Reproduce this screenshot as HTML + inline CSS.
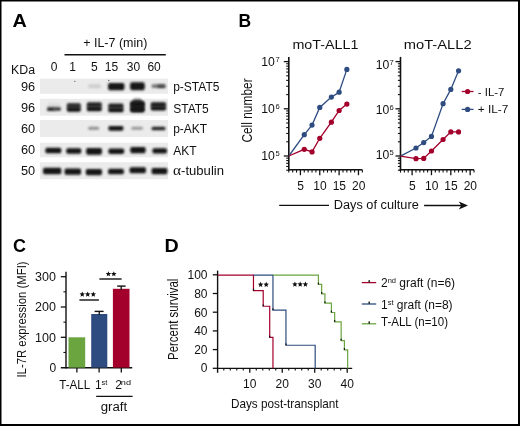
<!DOCTYPE html>
<html><head><meta charset="utf-8"><style>
html,body{margin:0;padding:0;background:#fff;}
svg{display:block;}
text{font-family:"Liberation Sans", sans-serif;}
svg{will-change:transform;}
</style></head><body>
<svg width="520" height="426" viewBox="0 0 520 426">
<defs><filter id="bl" x="-30%" y="-100%" width="160%" height="300%"><feGaussianBlur stdDeviation="1.0"/></filter></defs>
<rect width="520" height="426" fill="#fff"/>
<path d="M0 0H520V426H0Z M1.5 1.5V424H518V1.5Z" fill="#000" fill-rule="evenodd"/>
<text x="12.6" y="26.8" font-size="18.2" text-anchor="start" font-weight="bold" fill="#000" textLength="14.3" lengthAdjust="spacingAndGlyphs" >A</text>
<text x="238.6" y="26.5" font-size="18.2" text-anchor="start" font-weight="bold" fill="#000" textLength="12.6" lengthAdjust="spacingAndGlyphs" >B</text>
<text x="12.9" y="251.8" font-size="18.2" text-anchor="start" font-weight="bold" fill="#000" textLength="13.0" lengthAdjust="spacingAndGlyphs" >C</text>
<text x="164.6" y="251.8" font-size="18.2" text-anchor="start" font-weight="bold" fill="#000" textLength="14.2" lengthAdjust="spacingAndGlyphs" >D</text>
<text x="83.2" y="47.1" font-size="12" text-anchor="start" font-weight="normal" fill="#111" textLength="64.2" lengthAdjust="spacingAndGlyphs" >+ IL-7 (min)</text>
<line x1="64.5" y1="54.75" x2="165.8" y2="54.75" stroke="#111" stroke-width="1.5" />
<text x="54" y="70.7" font-size="12" text-anchor="middle" font-weight="normal" fill="#111" >0</text>
<text x="72.7" y="70.7" font-size="12" text-anchor="middle" font-weight="normal" fill="#111" >1</text>
<text x="94.3" y="70.7" font-size="12" text-anchor="middle" font-weight="normal" fill="#111" >5</text>
<text x="111.5" y="70.7" font-size="12" text-anchor="middle" font-weight="normal" fill="#111" >15</text>
<text x="133.4" y="70.7" font-size="12" text-anchor="middle" font-weight="normal" fill="#111" >30</text>
<text x="154.1" y="70.7" font-size="12" text-anchor="middle" font-weight="normal" fill="#111" >60</text>
<text x="11" y="74" font-size="12" text-anchor="start" font-weight="normal" fill="#111" textLength="24" lengthAdjust="spacingAndGlyphs" >KDa</text>
<rect x="40" y="78.6" width="128" height="15.200000000000003" fill="#ebebeb"/>
<text x="21.0" y="90.49999999999999" font-size="12.3" text-anchor="start" font-weight="normal" fill="#111" textLength="14.2" lengthAdjust="spacingAndGlyphs" >96</text>
<rect x="40" y="98.8" width="128" height="16.900000000000006" fill="#ebebeb"/>
<text x="21.0" y="111.55" font-size="12.3" text-anchor="start" font-weight="normal" fill="#111" textLength="14.2" lengthAdjust="spacingAndGlyphs" >96</text>
<rect x="40" y="120" width="128" height="17.099999999999994" fill="#ebebeb"/>
<text x="21.0" y="132.85000000000002" font-size="12.3" text-anchor="start" font-weight="normal" fill="#111" textLength="14.2" lengthAdjust="spacingAndGlyphs" >60</text>
<rect x="40" y="142.7" width="128" height="14.600000000000023" fill="#ebebeb"/>
<text x="21.0" y="154.3" font-size="12.3" text-anchor="start" font-weight="normal" fill="#111" textLength="14.2" lengthAdjust="spacingAndGlyphs" >60</text>
<rect x="40" y="162.2" width="128" height="17.0" fill="#ebebeb"/>
<text x="21.0" y="175.0" font-size="12.3" text-anchor="start" font-weight="normal" fill="#111" textLength="14.2" lengthAdjust="spacingAndGlyphs" >50</text>
<text x="173.2" y="91.3" font-size="12" text-anchor="start" font-weight="normal" fill="#111" >p-STAT5</text>
<text x="173.2" y="112.7" font-size="12" text-anchor="start" font-weight="normal" fill="#111" >STAT5</text>
<text x="173.2" y="133.4" font-size="12" text-anchor="start" font-weight="normal" fill="#111" >p-AKT</text>
<text x="173.2" y="154.7" font-size="12" text-anchor="start" font-weight="normal" fill="#111" >AKT</text>
<text x="173.0" y="175.0" font-size="12" fill="#111" textLength="51" lengthAdjust="spacingAndGlyphs"><tspan font-family="Liberation Serif" font-size="14">&#945;</tspan>-tubulin</text>
<rect x="88.00" y="84.25" width="13.00" height="4.10" rx="1.56" ry="2.05" fill="#141414" opacity="0.13" filter="url(#bl)"/>
<rect x="108.00" y="82.95" width="16.50" height="7.30" rx="1.60" ry="3.65" fill="#141414" opacity="1" filter="url(#bl)"/>
<rect x="130.10" y="82.25" width="14.70" height="8.00" rx="1.60" ry="4.00" fill="#141414" opacity="1" filter="url(#bl)"/>
<rect x="151.50" y="84.25" width="14.00" height="3.70" rx="1.60" ry="1.85" fill="#141414" opacity="0.55" filter="url(#bl)"/>
<rect x="157.50" y="84.45" width="8.00" height="3.50" rx="0.96" ry="1.75" fill="#141414" opacity="0.5" filter="url(#bl)"/>
<circle cx="74.8" cy="81.3" r="0.6" fill="#222" opacity="0.8"/>
<circle cx="108.8" cy="80.4" r="0.6" fill="#222" opacity="0.8"/>
<rect x="47.50" y="103.25" width="12.60" height="3.70" rx="1.51" ry="1.85" fill="#141414" opacity="0.08" filter="url(#bl)"/>
<rect x="47.00" y="107.15" width="7.50" height="3.90" rx="0.90" ry="1.95" fill="#141414" opacity="0.9" filter="url(#bl)"/>
<rect x="53.50" y="107.35" width="7.50" height="3.50" rx="0.90" ry="1.75" fill="#141414" opacity="0.8" filter="url(#bl)"/>
<rect x="67.10" y="104.98" width="13.40" height="4.75" rx="1.60" ry="2.37" fill="#141414" opacity="0.55" filter="url(#bl)"/>
<rect x="66.80" y="102.95" width="14.00" height="4.43" rx="1.60" ry="2.21" fill="#141414" opacity="0.8" filter="url(#bl)"/>
<rect x="66.80" y="107.32" width="14.00" height="4.43" rx="1.60" ry="2.21" fill="#141414" opacity="1" filter="url(#bl)"/>
<rect x="87.10" y="104.30" width="14.40" height="4.80" rx="1.60" ry="2.40" fill="#141414" opacity="0.55" filter="url(#bl)"/>
<rect x="86.80" y="102.25" width="15.00" height="4.47" rx="1.60" ry="2.24" fill="#141414" opacity="0.9" filter="url(#bl)"/>
<rect x="86.80" y="106.68" width="15.00" height="4.47" rx="1.60" ry="2.24" fill="#141414" opacity="1" filter="url(#bl)"/>
<rect x="108.55" y="105.58" width="14.65" height="4.75" rx="1.60" ry="2.37" fill="#141414" opacity="0.55" filter="url(#bl)"/>
<rect x="108.25" y="103.55" width="15.25" height="4.43" rx="1.60" ry="2.21" fill="#141414" opacity="0.9" filter="url(#bl)"/>
<rect x="108.25" y="107.92" width="15.25" height="4.43" rx="1.60" ry="2.21" fill="#141414" opacity="1" filter="url(#bl)"/>
<rect x="130.40" y="103.80" width="14.05" height="5.80" rx="1.60" ry="2.90" fill="#141414" opacity="0.55" filter="url(#bl)"/>
<rect x="130.10" y="101.25" width="14.65" height="5.39" rx="1.60" ry="2.70" fill="#141414" opacity="1.0" filter="url(#bl)"/>
<rect x="130.10" y="106.76" width="14.65" height="5.39" rx="1.60" ry="2.70" fill="#141414" opacity="1" filter="url(#bl)"/>
<rect x="131.00" y="101.15" width="13.00" height="10.70" rx="1.56" ry="5.35" fill="#141414" opacity="0.8" filter="url(#bl)"/>
<rect x="133.00" y="98.45" width="8.50" height="4.90" rx="1.02" ry="2.45" fill="#141414" opacity="0.55" filter="url(#bl)"/>
<rect x="151.05" y="104.12" width="14.65" height="4.45" rx="1.60" ry="2.22" fill="#141414" opacity="0.55" filter="url(#bl)"/>
<rect x="150.75" y="102.25" width="15.25" height="4.15" rx="1.60" ry="2.07" fill="#141414" opacity="0.95" filter="url(#bl)"/>
<rect x="150.75" y="106.30" width="15.25" height="4.15" rx="1.60" ry="2.07" fill="#141414" opacity="1" filter="url(#bl)"/>
<rect x="88.10" y="126.75" width="11.10" height="3.10" rx="1.33" ry="1.55" fill="#141414" opacity="0.42" filter="url(#bl)"/>
<rect x="108.30" y="125.95" width="15.20" height="4.70" rx="1.60" ry="2.35" fill="#141414" opacity="1" filter="url(#bl)"/>
<rect x="131.30" y="126.75" width="11.70" height="3.10" rx="1.40" ry="1.55" fill="#141414" opacity="0.38" filter="url(#bl)"/>
<rect x="151.50" y="126.65" width="14.00" height="3.70" rx="1.60" ry="1.85" fill="#141414" opacity="0.92" filter="url(#bl)"/>
<rect x="45.25" y="147.75" width="16.15" height="5.50" rx="1.60" ry="2.75" fill="#141414" opacity="1" filter="url(#bl)"/>
<rect x="66.10" y="148.25" width="15.30" height="5.50" rx="1.60" ry="2.75" fill="#141414" opacity="1" filter="url(#bl)"/>
<rect x="86.10" y="148.05" width="15.90" height="6.60" rx="1.60" ry="3.30" fill="#141414" opacity="1" filter="url(#bl)"/>
<rect x="108.30" y="148.45" width="16.00" height="5.60" rx="1.60" ry="2.80" fill="#141414" opacity="1" filter="url(#bl)"/>
<rect x="130.20" y="146.95" width="15.50" height="6.20" rx="1.60" ry="3.10" fill="#141414" opacity="1" filter="url(#bl)"/>
<rect x="152.30" y="148.15" width="14.80" height="5.40" rx="1.60" ry="2.70" fill="#141414" opacity="1" filter="url(#bl)"/>
<rect x="43.00" y="167.75" width="18.40" height="6.60" rx="1.60" ry="3.30" fill="#141414" opacity="1" filter="url(#bl)"/>
<rect x="64.50" y="168.55" width="16.60" height="6.20" rx="1.60" ry="3.10" fill="#141414" opacity="1" filter="url(#bl)"/>
<rect x="85.70" y="168.95" width="16.40" height="6.20" rx="1.60" ry="3.10" fill="#141414" opacity="1" filter="url(#bl)"/>
<rect x="108.00" y="168.65" width="16.00" height="5.60" rx="1.60" ry="2.80" fill="#141414" opacity="1" filter="url(#bl)"/>
<rect x="129.50" y="167.15" width="16.50" height="6.00" rx="1.60" ry="3.00" fill="#141414" opacity="1" filter="url(#bl)"/>
<rect x="151.50" y="167.95" width="16.00" height="6.30" rx="1.60" ry="3.15" fill="#141414" opacity="1" filter="url(#bl)"/>
<text x="292.4" y="48.7" font-size="12.6" text-anchor="start" font-weight="normal" fill="#111" textLength="66" lengthAdjust="spacingAndGlyphs" >moT-ALL1</text>
<line x1="288.8" y1="56.9" x2="288.8" y2="170.6" stroke="#111" stroke-width="1.6" />
<line x1="288.0" y1="169.8" x2="362.33000000000004" y2="169.8" stroke="#111" stroke-width="1.6" />
<line x1="283.8" y1="156.0" x2="288.8" y2="156.0" stroke="#111" stroke-width="1.3" />
<line x1="283.8" y1="108.8" x2="288.8" y2="108.8" stroke="#111" stroke-width="1.3" />
<line x1="283.8" y1="61.599999999999994" x2="288.8" y2="61.599999999999994" stroke="#111" stroke-width="1.3" />
<line x1="286.2" y1="170.2086157953399" x2="288.8" y2="170.2086157953399" stroke="#111" stroke-width="1.1" />
<line x1="286.2" y1="166.47126098189202" x2="288.8" y2="166.47126098189202" stroke="#111" stroke-width="1.1" />
<line x1="286.2" y1="163.31137251132708" x2="288.8" y2="163.31137251132708" stroke="#111" stroke-width="1.1" />
<line x1="286.2" y1="160.57415261398026" x2="288.8" y2="160.57415261398026" stroke="#111" stroke-width="1.1" />
<line x1="286.2" y1="158.15975355446386" x2="288.8" y2="158.15975355446386" stroke="#111" stroke-width="1.1" />
<line x1="286.2" y1="141.7913842046601" x2="288.8" y2="141.7913842046601" stroke="#111" stroke-width="1.1" />
<line x1="286.2" y1="133.47987677723194" x2="288.8" y2="133.47987677723194" stroke="#111" stroke-width="1.1" />
<line x1="286.2" y1="127.58276840932017" x2="288.8" y2="127.58276840932017" stroke="#111" stroke-width="1.1" />
<line x1="286.2" y1="123.00861579533992" x2="288.8" y2="123.00861579533992" stroke="#111" stroke-width="1.1" />
<line x1="286.2" y1="119.27126098189201" x2="288.8" y2="119.27126098189201" stroke="#111" stroke-width="1.1" />
<line x1="286.2" y1="116.11137251132708" x2="288.8" y2="116.11137251132708" stroke="#111" stroke-width="1.1" />
<line x1="286.2" y1="113.37415261398026" x2="288.8" y2="113.37415261398026" stroke="#111" stroke-width="1.1" />
<line x1="286.2" y1="110.95975355446384" x2="288.8" y2="110.95975355446384" stroke="#111" stroke-width="1.1" />
<line x1="286.2" y1="94.59138420466007" x2="288.8" y2="94.59138420466007" stroke="#111" stroke-width="1.1" />
<line x1="286.2" y1="86.27987677723192" x2="288.8" y2="86.27987677723192" stroke="#111" stroke-width="1.1" />
<line x1="286.2" y1="80.38276840932016" x2="288.8" y2="80.38276840932016" stroke="#111" stroke-width="1.1" />
<line x1="286.2" y1="75.8086157953399" x2="288.8" y2="75.8086157953399" stroke="#111" stroke-width="1.1" />
<line x1="286.2" y1="72.07126098189201" x2="288.8" y2="72.07126098189201" stroke="#111" stroke-width="1.1" />
<line x1="286.2" y1="68.91137251132707" x2="288.8" y2="68.91137251132707" stroke="#111" stroke-width="1.1" />
<line x1="286.2" y1="66.17415261398025" x2="288.8" y2="66.17415261398025" stroke="#111" stroke-width="1.1" />
<line x1="286.2" y1="63.75975355446384" x2="288.8" y2="63.75975355446384" stroke="#111" stroke-width="1.1" />
<line x1="288.8" y1="169.8" x2="288.8" y2="172.6" stroke="#111" stroke-width="1.1" />
<line x1="292.67" y1="169.8" x2="292.67" y2="172.6" stroke="#111" stroke-width="1.1" />
<line x1="296.54" y1="169.8" x2="296.54" y2="172.6" stroke="#111" stroke-width="1.1" />
<line x1="300.41" y1="169.8" x2="300.41" y2="175.2" stroke="#111" stroke-width="1.3" />
<text x="300.61" y="190.4" font-size="12" text-anchor="middle" font-weight="normal" fill="#111" >5</text>
<line x1="304.28000000000003" y1="169.8" x2="304.28000000000003" y2="172.6" stroke="#111" stroke-width="1.1" />
<line x1="308.15000000000003" y1="169.8" x2="308.15000000000003" y2="172.6" stroke="#111" stroke-width="1.1" />
<line x1="312.02" y1="169.8" x2="312.02" y2="172.6" stroke="#111" stroke-width="1.1" />
<line x1="315.89" y1="169.8" x2="315.89" y2="172.6" stroke="#111" stroke-width="1.1" />
<line x1="319.76" y1="169.8" x2="319.76" y2="175.2" stroke="#111" stroke-width="1.3" />
<text x="319.96" y="190.4" font-size="12" text-anchor="middle" font-weight="normal" fill="#111" >10</text>
<line x1="323.63" y1="169.8" x2="323.63" y2="172.6" stroke="#111" stroke-width="1.1" />
<line x1="327.5" y1="169.8" x2="327.5" y2="172.6" stroke="#111" stroke-width="1.1" />
<line x1="331.37" y1="169.8" x2="331.37" y2="172.6" stroke="#111" stroke-width="1.1" />
<line x1="335.24" y1="169.8" x2="335.24" y2="172.6" stroke="#111" stroke-width="1.1" />
<line x1="339.11" y1="169.8" x2="339.11" y2="175.2" stroke="#111" stroke-width="1.3" />
<text x="339.31" y="190.4" font-size="12" text-anchor="middle" font-weight="normal" fill="#111" >15</text>
<line x1="342.98" y1="169.8" x2="342.98" y2="172.6" stroke="#111" stroke-width="1.1" />
<line x1="346.85" y1="169.8" x2="346.85" y2="172.6" stroke="#111" stroke-width="1.1" />
<line x1="350.72" y1="169.8" x2="350.72" y2="172.6" stroke="#111" stroke-width="1.1" />
<line x1="354.59000000000003" y1="169.8" x2="354.59000000000003" y2="172.6" stroke="#111" stroke-width="1.1" />
<line x1="358.46000000000004" y1="169.8" x2="358.46000000000004" y2="175.2" stroke="#111" stroke-width="1.3" />
<text x="358.66" y="190.4" font-size="12" text-anchor="middle" font-weight="normal" fill="#111" >20</text>
<line x1="362.33000000000004" y1="169.8" x2="362.33000000000004" y2="172.6" stroke="#111" stroke-width="1.1" />
<text x="274.8" y="65.8" font-size="12.2" text-anchor="end" font-weight="normal" fill="#111" >10</text>
<text x="275.5" y="61.5" font-size="7.6" text-anchor="start" font-weight="normal" fill="#111" >7</text>
<text x="274.8" y="112.6" font-size="12.2" text-anchor="end" font-weight="normal" fill="#111" >10</text>
<text x="275.5" y="108.8" font-size="7.6" text-anchor="start" font-weight="normal" fill="#111" >6</text>
<text x="274.8" y="159.6" font-size="12.2" text-anchor="end" font-weight="normal" fill="#111" >10</text>
<text x="275.5" y="155.9" font-size="7.6" text-anchor="start" font-weight="normal" fill="#111" >5</text>
<text x="403.8" y="48.7" font-size="12.6" text-anchor="start" font-weight="normal" fill="#111" textLength="67.8" lengthAdjust="spacingAndGlyphs" >moT-ALL2</text>
<line x1="400.5" y1="56.9" x2="400.5" y2="170.6" stroke="#111" stroke-width="1.6" />
<line x1="399.7" y1="169.8" x2="474.03" y2="169.8" stroke="#111" stroke-width="1.6" />
<line x1="395.5" y1="156.0" x2="400.5" y2="156.0" stroke="#111" stroke-width="1.3" />
<line x1="395.5" y1="108.8" x2="400.5" y2="108.8" stroke="#111" stroke-width="1.3" />
<line x1="395.5" y1="61.599999999999994" x2="400.5" y2="61.599999999999994" stroke="#111" stroke-width="1.3" />
<line x1="397.9" y1="170.2086157953399" x2="400.5" y2="170.2086157953399" stroke="#111" stroke-width="1.1" />
<line x1="397.9" y1="166.47126098189202" x2="400.5" y2="166.47126098189202" stroke="#111" stroke-width="1.1" />
<line x1="397.9" y1="163.31137251132708" x2="400.5" y2="163.31137251132708" stroke="#111" stroke-width="1.1" />
<line x1="397.9" y1="160.57415261398026" x2="400.5" y2="160.57415261398026" stroke="#111" stroke-width="1.1" />
<line x1="397.9" y1="158.15975355446386" x2="400.5" y2="158.15975355446386" stroke="#111" stroke-width="1.1" />
<line x1="397.9" y1="141.7913842046601" x2="400.5" y2="141.7913842046601" stroke="#111" stroke-width="1.1" />
<line x1="397.9" y1="133.47987677723194" x2="400.5" y2="133.47987677723194" stroke="#111" stroke-width="1.1" />
<line x1="397.9" y1="127.58276840932017" x2="400.5" y2="127.58276840932017" stroke="#111" stroke-width="1.1" />
<line x1="397.9" y1="123.00861579533992" x2="400.5" y2="123.00861579533992" stroke="#111" stroke-width="1.1" />
<line x1="397.9" y1="119.27126098189201" x2="400.5" y2="119.27126098189201" stroke="#111" stroke-width="1.1" />
<line x1="397.9" y1="116.11137251132708" x2="400.5" y2="116.11137251132708" stroke="#111" stroke-width="1.1" />
<line x1="397.9" y1="113.37415261398026" x2="400.5" y2="113.37415261398026" stroke="#111" stroke-width="1.1" />
<line x1="397.9" y1="110.95975355446384" x2="400.5" y2="110.95975355446384" stroke="#111" stroke-width="1.1" />
<line x1="397.9" y1="94.59138420466007" x2="400.5" y2="94.59138420466007" stroke="#111" stroke-width="1.1" />
<line x1="397.9" y1="86.27987677723192" x2="400.5" y2="86.27987677723192" stroke="#111" stroke-width="1.1" />
<line x1="397.9" y1="80.38276840932016" x2="400.5" y2="80.38276840932016" stroke="#111" stroke-width="1.1" />
<line x1="397.9" y1="75.8086157953399" x2="400.5" y2="75.8086157953399" stroke="#111" stroke-width="1.1" />
<line x1="397.9" y1="72.07126098189201" x2="400.5" y2="72.07126098189201" stroke="#111" stroke-width="1.1" />
<line x1="397.9" y1="68.91137251132707" x2="400.5" y2="68.91137251132707" stroke="#111" stroke-width="1.1" />
<line x1="397.9" y1="66.17415261398025" x2="400.5" y2="66.17415261398025" stroke="#111" stroke-width="1.1" />
<line x1="397.9" y1="63.75975355446384" x2="400.5" y2="63.75975355446384" stroke="#111" stroke-width="1.1" />
<line x1="400.5" y1="169.8" x2="400.5" y2="172.6" stroke="#111" stroke-width="1.1" />
<line x1="404.37" y1="169.8" x2="404.37" y2="172.6" stroke="#111" stroke-width="1.1" />
<line x1="408.24" y1="169.8" x2="408.24" y2="172.6" stroke="#111" stroke-width="1.1" />
<line x1="412.11" y1="169.8" x2="412.11" y2="175.2" stroke="#111" stroke-width="1.3" />
<text x="412.31" y="190.4" font-size="12" text-anchor="middle" font-weight="normal" fill="#111" >5</text>
<line x1="415.98" y1="169.8" x2="415.98" y2="172.6" stroke="#111" stroke-width="1.1" />
<line x1="419.85" y1="169.8" x2="419.85" y2="172.6" stroke="#111" stroke-width="1.1" />
<line x1="423.72" y1="169.8" x2="423.72" y2="172.6" stroke="#111" stroke-width="1.1" />
<line x1="427.59" y1="169.8" x2="427.59" y2="172.6" stroke="#111" stroke-width="1.1" />
<line x1="431.46" y1="169.8" x2="431.46" y2="175.2" stroke="#111" stroke-width="1.3" />
<text x="431.65999999999997" y="190.4" font-size="12" text-anchor="middle" font-weight="normal" fill="#111" >10</text>
<line x1="435.33" y1="169.8" x2="435.33" y2="172.6" stroke="#111" stroke-width="1.1" />
<line x1="439.2" y1="169.8" x2="439.2" y2="172.6" stroke="#111" stroke-width="1.1" />
<line x1="443.07" y1="169.8" x2="443.07" y2="172.6" stroke="#111" stroke-width="1.1" />
<line x1="446.94" y1="169.8" x2="446.94" y2="172.6" stroke="#111" stroke-width="1.1" />
<line x1="450.81" y1="169.8" x2="450.81" y2="175.2" stroke="#111" stroke-width="1.3" />
<text x="451.01" y="190.4" font-size="12" text-anchor="middle" font-weight="normal" fill="#111" >15</text>
<line x1="454.68" y1="169.8" x2="454.68" y2="172.6" stroke="#111" stroke-width="1.1" />
<line x1="458.55" y1="169.8" x2="458.55" y2="172.6" stroke="#111" stroke-width="1.1" />
<line x1="462.42" y1="169.8" x2="462.42" y2="172.6" stroke="#111" stroke-width="1.1" />
<line x1="466.29" y1="169.8" x2="466.29" y2="172.6" stroke="#111" stroke-width="1.1" />
<line x1="470.15999999999997" y1="169.8" x2="470.15999999999997" y2="175.2" stroke="#111" stroke-width="1.3" />
<text x="470.35999999999996" y="190.4" font-size="12" text-anchor="middle" font-weight="normal" fill="#111" >20</text>
<line x1="474.03" y1="169.8" x2="474.03" y2="172.6" stroke="#111" stroke-width="1.1" />
<text x="389.4" y="68.5" font-size="12.2" text-anchor="end" font-weight="normal" fill="#111" >10</text>
<text x="389.5" y="64.6" font-size="7.6" text-anchor="start" font-weight="normal" fill="#111" >7</text>
<text x="389.4" y="114.2" font-size="12.2" text-anchor="end" font-weight="normal" fill="#111" >10</text>
<text x="389.5" y="110.3" font-size="7.6" text-anchor="start" font-weight="normal" fill="#111" >6</text>
<text x="389.4" y="158.8" font-size="12.2" text-anchor="end" font-weight="normal" fill="#111" >10</text>
<text x="389.5" y="155.0" font-size="7.6" text-anchor="start" font-weight="normal" fill="#111" >5</text>
<path d="M288.80,156.00 L304.28,134.70 L312.02,125.10 L319.76,107.40 L331.37,97.10 L339.11,92.20 L346.85,69.40" fill="none" stroke="#2e4c80" stroke-width="1.3"/>
<circle cx="304.28" cy="134.70" r="2.6" fill="#2e4c80"/>
<circle cx="312.02" cy="125.10" r="2.6" fill="#2e4c80"/>
<circle cx="319.76" cy="107.40" r="2.6" fill="#2e4c80"/>
<circle cx="331.37" cy="97.10" r="2.6" fill="#2e4c80"/>
<circle cx="339.11" cy="92.20" r="2.6" fill="#2e4c80"/>
<circle cx="346.85" cy="69.40" r="2.6" fill="#2e4c80"/>
<path d="M288.80,156.00 L304.28,149.30 L312.02,151.90 L319.76,138.30 L331.37,122.20 L339.11,110.50 L346.85,104.10" fill="none" stroke="#a3002c" stroke-width="1.3"/>
<circle cx="304.28" cy="149.30" r="2.6" fill="#a3002c"/>
<circle cx="312.02" cy="151.90" r="2.6" fill="#a3002c"/>
<circle cx="319.76" cy="138.30" r="2.6" fill="#a3002c"/>
<circle cx="331.37" cy="122.20" r="2.6" fill="#a3002c"/>
<circle cx="339.11" cy="110.50" r="2.6" fill="#a3002c"/>
<circle cx="346.85" cy="104.10" r="2.6" fill="#a3002c"/>
<path d="M400.50,156.10 L415.98,148.00 L423.72,142.60 L431.46,136.40 L443.07,103.70 L450.81,89.40 L458.55,70.80" fill="none" stroke="#2e4c80" stroke-width="1.3"/>
<circle cx="415.98" cy="148.00" r="2.6" fill="#2e4c80"/>
<circle cx="423.72" cy="142.60" r="2.6" fill="#2e4c80"/>
<circle cx="431.46" cy="136.40" r="2.6" fill="#2e4c80"/>
<circle cx="443.07" cy="103.70" r="2.6" fill="#2e4c80"/>
<circle cx="450.81" cy="89.40" r="2.6" fill="#2e4c80"/>
<circle cx="458.55" cy="70.80" r="2.6" fill="#2e4c80"/>
<path d="M400.50,156.10 L415.98,158.70 L423.72,158.40 L431.46,151.00 L443.07,139.50 L450.81,131.90 L458.55,131.90" fill="none" stroke="#a3002c" stroke-width="1.3"/>
<circle cx="415.98" cy="158.70" r="2.6" fill="#a3002c"/>
<circle cx="423.72" cy="158.40" r="2.6" fill="#a3002c"/>
<circle cx="431.46" cy="151.00" r="2.6" fill="#a3002c"/>
<circle cx="443.07" cy="139.50" r="2.6" fill="#a3002c"/>
<circle cx="450.81" cy="131.90" r="2.6" fill="#a3002c"/>
<circle cx="458.55" cy="131.90" r="2.6" fill="#a3002c"/>
<line x1="461.7" y1="91.5" x2="473.5" y2="91.5" stroke="#a3002c" stroke-width="1.3" />
<circle cx="467.6" cy="91.5" r="2.6" fill="#a3002c"/>
<text x="477.8" y="95.5" font-size="11.5" text-anchor="start" font-weight="normal" fill="#111" textLength="26.5" lengthAdjust="spacingAndGlyphs" >- IL-7</text>
<line x1="461.7" y1="109.4" x2="473.5" y2="109.4" stroke="#2e4c80" stroke-width="1.3" />
<circle cx="467.6" cy="109.4" r="2.6" fill="#2e4c80"/>
<text x="477.8" y="113.4" font-size="11.5" text-anchor="start" font-weight="normal" fill="#111" textLength="30.6" lengthAdjust="spacingAndGlyphs" >+ IL-7</text>
<text transform="translate(251.6,142.6) rotate(-90)" font-size="14.6" fill="#111" textLength="64.2" lengthAdjust="spacingAndGlyphs">Cell number</text>
<line x1="279.2" y1="205.3" x2="329" y2="205.3" stroke="#111" stroke-width="1.3" />
<text x="333.8" y="208.8" font-size="12.3" text-anchor="start" font-weight="normal" fill="#111" textLength="85" lengthAdjust="spacingAndGlyphs" >Days of culture</text>
<line x1="424.1" y1="205.5" x2="462" y2="205.5" stroke="#111" stroke-width="1.3" />
<path d="M468 205.5 L458.8 201.6 L461.2 205.5 L458.8 209.4 Z" fill="#111"/>
<line x1="66" y1="271.8" x2="66" y2="368.4" stroke="#111" stroke-width="1.4" />
<line x1="60.8" y1="367.7" x2="132.2" y2="367.7" stroke="#111" stroke-width="1.4" />
<line x1="60.8" y1="337.3" x2="66" y2="337.3" stroke="#111" stroke-width="1.3" />
<text x="35.1" y="341.6" font-size="12" text-anchor="start" font-weight="normal" fill="#111" textLength="20.9" lengthAdjust="spacingAndGlyphs" >100</text>
<line x1="60.8" y1="307.0" x2="66" y2="307.0" stroke="#111" stroke-width="1.3" />
<text x="35.1" y="311.3" font-size="12" text-anchor="start" font-weight="normal" fill="#111" textLength="20.9" lengthAdjust="spacingAndGlyphs" >200</text>
<line x1="60.8" y1="276.70000000000005" x2="66" y2="276.70000000000005" stroke="#111" stroke-width="1.3" />
<text x="35.1" y="281.00000000000006" font-size="12" text-anchor="start" font-weight="normal" fill="#111" textLength="20.9" lengthAdjust="spacingAndGlyphs" >300</text>
<text x="56.2" y="371.90000000000003" font-size="12" text-anchor="end" font-weight="normal" fill="#111" >0</text>
<line x1="63.4" y1="352.45000000000005" x2="66" y2="352.45000000000005" stroke="#111" stroke-width="1.1" />
<line x1="63.4" y1="322.15000000000003" x2="66" y2="322.15000000000003" stroke="#111" stroke-width="1.1" />
<line x1="63.4" y1="291.85" x2="66" y2="291.85" stroke="#111" stroke-width="1.1" />
<line x1="76.9" y1="367.7" x2="76.9" y2="372.4" stroke="#111" stroke-width="1.3" />
<line x1="99.1" y1="367.7" x2="99.1" y2="372.4" stroke="#111" stroke-width="1.3" />
<line x1="121.3" y1="367.7" x2="121.3" y2="372.4" stroke="#111" stroke-width="1.3" />
<rect x="68.5" y="337.3" width="16.7" height="30.30000000000001" fill="#6ba540"/>
<rect x="91.2" y="314" width="16.1" height="53.60000000000002" fill="#2e4c80"/>
<rect x="112.9" y="288.8" width="16.6" height="78.80000000000001" fill="#a3002c"/>
<line x1="99.25" y1="311.4" x2="99.25" y2="315" stroke="#111" stroke-width="1.3" />
<line x1="94.6" y1="311.4" x2="103.6" y2="311.4" stroke="#111" stroke-width="1.4" />
<line x1="121.2" y1="286.1" x2="121.2" y2="290" stroke="#111" stroke-width="1.3" />
<line x1="117.2" y1="286.1" x2="125.6" y2="286.1" stroke="#111" stroke-width="1.4" />
<line x1="79.4" y1="300" x2="98.9" y2="300" stroke="#111" stroke-width="1.4" />
<line x1="99.4" y1="279" x2="121.6" y2="279" stroke="#111" stroke-width="1.4" />
<polygon points="82.25,291.55 81.49,293.35 79.54,293.52 81.01,294.80 80.57,296.71 82.25,295.70 83.93,296.71 83.49,294.80 84.96,293.52 83.01,293.35" fill="#111"/>
<polygon points="87.70,291.55 86.94,293.35 84.99,293.52 86.46,294.80 86.02,296.71 87.70,295.70 89.38,296.71 88.94,294.80 90.41,293.52 88.46,293.35" fill="#111"/>
<polygon points="93.30,291.55 92.54,293.35 90.59,293.52 92.06,294.80 91.62,296.71 93.30,295.70 94.98,296.71 94.54,294.80 96.01,293.52 94.06,293.35" fill="#111"/>
<polygon points="108.40,271.15 107.64,272.95 105.69,273.12 107.16,274.40 106.72,276.31 108.40,275.30 110.08,276.31 109.64,274.40 111.11,273.12 109.16,272.95" fill="#111"/>
<polygon points="113.80,271.15 113.04,272.95 111.09,273.12 112.56,274.40 112.12,276.31 113.80,275.30 115.48,276.31 115.04,274.40 116.51,273.12 114.56,272.95" fill="#111"/>
<text x="59.2" y="388.6" font-size="12" text-anchor="start" font-weight="normal" fill="#111" textLength="31" lengthAdjust="spacingAndGlyphs" >T-ALL</text>
<text x="95" y="388.6" font-size="12" text-anchor="start" font-weight="normal" fill="#111" >1</text>
<text x="101.5" y="385" font-size="7.5" text-anchor="start" font-weight="normal" fill="#111" >st</text>
<text x="115.3" y="388.6" font-size="12" text-anchor="start" font-weight="normal" fill="#111" >2</text>
<text x="120.8" y="385" font-size="7.5" text-anchor="start" font-weight="normal" fill="#111" textLength="10.2" lengthAdjust="spacingAndGlyphs" >nd</text>
<line x1="96.2" y1="396.3" x2="132.6" y2="396.3" stroke="#111" stroke-width="1.3" />
<text x="100.7" y="410.7" font-size="12" text-anchor="start" font-weight="normal" fill="#111" textLength="26.5" lengthAdjust="spacingAndGlyphs" >graft</text>
<text transform="translate(25.6,377.6) rotate(-90)" font-size="12.6" fill="#111" textLength="116.2" lengthAdjust="spacingAndGlyphs">IL-7R expression (MFI)</text>
<line x1="217.6" y1="270.6" x2="217.6" y2="372.8" stroke="#111" stroke-width="1.4" />
<line x1="217.6" y1="368.4" x2="352.2" y2="368.4" stroke="#111" stroke-width="1.4" />
<line x1="212.8" y1="368.3" x2="217.6" y2="368.3" stroke="#111" stroke-width="1.3" />
<text x="207.5" y="371.6" font-size="12" text-anchor="end" font-weight="normal" fill="#111" >0</text>
<line x1="212.8" y1="349.6" x2="217.6" y2="349.6" stroke="#111" stroke-width="1.3" />
<text x="207.5" y="353.90000000000003" font-size="12" text-anchor="end" font-weight="normal" fill="#111" >20</text>
<line x1="212.8" y1="330.9" x2="217.6" y2="330.9" stroke="#111" stroke-width="1.3" />
<text x="207.5" y="335.2" font-size="12" text-anchor="end" font-weight="normal" fill="#111" >40</text>
<line x1="212.8" y1="312.2" x2="217.6" y2="312.2" stroke="#111" stroke-width="1.3" />
<text x="207.5" y="316.5" font-size="12" text-anchor="end" font-weight="normal" fill="#111" >60</text>
<line x1="212.8" y1="293.5" x2="217.6" y2="293.5" stroke="#111" stroke-width="1.3" />
<text x="207.5" y="297.8" font-size="12" text-anchor="end" font-weight="normal" fill="#111" >80</text>
<line x1="212.8" y1="274.8" x2="217.6" y2="274.8" stroke="#111" stroke-width="1.3" />
<text x="207.5" y="279.1" font-size="12" text-anchor="end" font-weight="normal" fill="#111" >100</text>
<line x1="223.79500000000002" y1="368.4" x2="223.79500000000002" y2="370.6" stroke="#111" stroke-width="1.1" />
<line x1="230.29000000000002" y1="368.4" x2="230.29000000000002" y2="370.6" stroke="#111" stroke-width="1.1" />
<line x1="236.78500000000003" y1="368.4" x2="236.78500000000003" y2="370.6" stroke="#111" stroke-width="1.1" />
<line x1="243.28" y1="368.4" x2="243.28" y2="370.6" stroke="#111" stroke-width="1.1" />
<line x1="249.775" y1="368.4" x2="249.775" y2="372.8" stroke="#111" stroke-width="1.3" />
<text x="249.775" y="388.3" font-size="12" text-anchor="middle" font-weight="normal" fill="#111" >10</text>
<line x1="256.27" y1="368.4" x2="256.27" y2="370.6" stroke="#111" stroke-width="1.1" />
<line x1="262.765" y1="368.4" x2="262.765" y2="370.6" stroke="#111" stroke-width="1.1" />
<line x1="269.26" y1="368.4" x2="269.26" y2="370.6" stroke="#111" stroke-width="1.1" />
<line x1="275.755" y1="368.4" x2="275.755" y2="370.6" stroke="#111" stroke-width="1.1" />
<line x1="282.25" y1="368.4" x2="282.25" y2="372.8" stroke="#111" stroke-width="1.3" />
<text x="282.25" y="388.3" font-size="12" text-anchor="middle" font-weight="normal" fill="#111" >20</text>
<line x1="288.745" y1="368.4" x2="288.745" y2="370.6" stroke="#111" stroke-width="1.1" />
<line x1="295.24" y1="368.4" x2="295.24" y2="370.6" stroke="#111" stroke-width="1.1" />
<line x1="301.735" y1="368.4" x2="301.735" y2="370.6" stroke="#111" stroke-width="1.1" />
<line x1="308.23" y1="368.4" x2="308.23" y2="370.6" stroke="#111" stroke-width="1.1" />
<line x1="314.725" y1="368.4" x2="314.725" y2="372.8" stroke="#111" stroke-width="1.3" />
<text x="314.725" y="388.3" font-size="12" text-anchor="middle" font-weight="normal" fill="#111" >30</text>
<line x1="321.22" y1="368.4" x2="321.22" y2="370.6" stroke="#111" stroke-width="1.1" />
<line x1="327.71500000000003" y1="368.4" x2="327.71500000000003" y2="370.6" stroke="#111" stroke-width="1.1" />
<line x1="334.21000000000004" y1="368.4" x2="334.21000000000004" y2="370.6" stroke="#111" stroke-width="1.1" />
<line x1="340.70500000000004" y1="368.4" x2="340.70500000000004" y2="370.6" stroke="#111" stroke-width="1.1" />
<line x1="347.20000000000005" y1="368.4" x2="347.20000000000005" y2="372.8" stroke="#111" stroke-width="1.3" />
<text x="347.20000000000005" y="388.3" font-size="12" text-anchor="middle" font-weight="normal" fill="#111" >40</text>
<path d="M217.75,275.10 H253.47 V290.69 H263.21 V306.26 H269.71 V337.44 H272.96 V368.60" fill="none" stroke="#a3002c" stroke-width="1.2"/>
<path d="M253.47,275.10 H272.96 V310.16 H285.95 V345.23 H315.18 V368.60" fill="none" stroke="#2e4c80" stroke-width="1.2"/>
<path d="M272.96,275.10 H318.42 V284.45 H321.67 V293.80 H324.92 V303.15 H331.41 V312.50 H334.66 V321.85 H341.16 V340.55 H344.40 V349.90 H347.65 V368.60" fill="none" stroke="#6ba540" stroke-width="1.2"/>
<rect x="252.87" y="288.89" width="1.2" height="1.8" fill="#111"/>
<rect x="262.62" y="304.46" width="1.2" height="1.8" fill="#111"/>
<rect x="269.11" y="335.64" width="1.2" height="1.8" fill="#111"/>
<rect x="272.36" y="308.36" width="1.2" height="1.8" fill="#111"/>
<rect x="285.35" y="343.43" width="1.2" height="1.8" fill="#111"/>
<rect x="317.82" y="282.65" width="1.2" height="1.8" fill="#111"/>
<rect x="321.07" y="292.00" width="1.2" height="1.8" fill="#111"/>
<rect x="324.32" y="301.35" width="1.2" height="1.8" fill="#111"/>
<rect x="330.81" y="310.70" width="1.2" height="1.8" fill="#111"/>
<rect x="334.06" y="320.05" width="1.2" height="1.8" fill="#111"/>
<rect x="340.56" y="338.75" width="1.2" height="1.8" fill="#111"/>
<rect x="343.80" y="348.10" width="1.2" height="1.8" fill="#111"/>
<polygon points="260.60,281.75 259.84,283.55 257.89,283.72 259.36,285.00 258.92,286.91 260.60,285.90 262.28,286.91 261.84,285.00 263.31,283.72 261.36,283.55" fill="#111"/>
<polygon points="266.20,281.75 265.44,283.55 263.49,283.72 264.96,285.00 264.52,286.91 266.20,285.90 267.88,286.91 267.44,285.00 268.91,283.72 266.96,283.55" fill="#111"/>
<polygon points="294.90,281.55 294.14,283.35 292.19,283.52 293.66,284.80 293.22,286.71 294.90,285.70 296.58,286.71 296.14,284.80 297.61,283.52 295.66,283.35" fill="#111"/>
<polygon points="300.20,281.55 299.44,283.35 297.49,283.52 298.96,284.80 298.52,286.71 300.20,285.70 301.88,286.71 301.44,284.80 302.91,283.52 300.96,283.35" fill="#111"/>
<polygon points="305.40,281.55 304.64,283.35 302.69,283.52 304.16,284.80 303.72,286.71 305.40,285.70 307.08,286.71 306.64,284.80 308.11,283.52 306.16,283.35" fill="#111"/>
<text transform="translate(177.6,360.0) rotate(-90)" font-size="14.2" fill="#111" textLength="81.4" lengthAdjust="spacingAndGlyphs">Percent survival</text>
<text x="231" y="407.7" font-size="13" text-anchor="start" font-weight="normal" fill="#111" textLength="107.6" lengthAdjust="spacingAndGlyphs" >Days post-transplant</text>
<line x1="361.8" y1="282.6" x2="376.2" y2="282.6" stroke="#a3002c" stroke-width="1.3" />
<rect x="368.5" y="280.20000000000005" width="1.4" height="2.2" fill="#111"/>
<line x1="361.8" y1="304.0" x2="376.2" y2="304.0" stroke="#2e4c80" stroke-width="1.3" />
<rect x="368.5" y="301.6" width="1.4" height="2.2" fill="#111"/>
<line x1="361.8" y1="323.8" x2="376.2" y2="323.8" stroke="#6ba540" stroke-width="1.3" />
<rect x="368.5" y="321.40000000000003" width="1.4" height="2.2" fill="#111"/>
<text x="381" y="287.0" font-size="12" fill="#111">2<tspan font-size="7.5" dy="-3.8">nd</tspan><tspan dy="3.8"> graft (n=6)</tspan></text>
<text x="381" y="308.5" font-size="12" fill="#111">1<tspan font-size="7.5" dy="-3.8">st</tspan><tspan dy="3.8"> graft (n=8)</tspan></text>
<text x="381" y="325.8" font-size="12" text-anchor="start" font-weight="normal" fill="#111" textLength="67" lengthAdjust="spacingAndGlyphs" >T-ALL (n=10)</text>
</svg>
</body></html>
